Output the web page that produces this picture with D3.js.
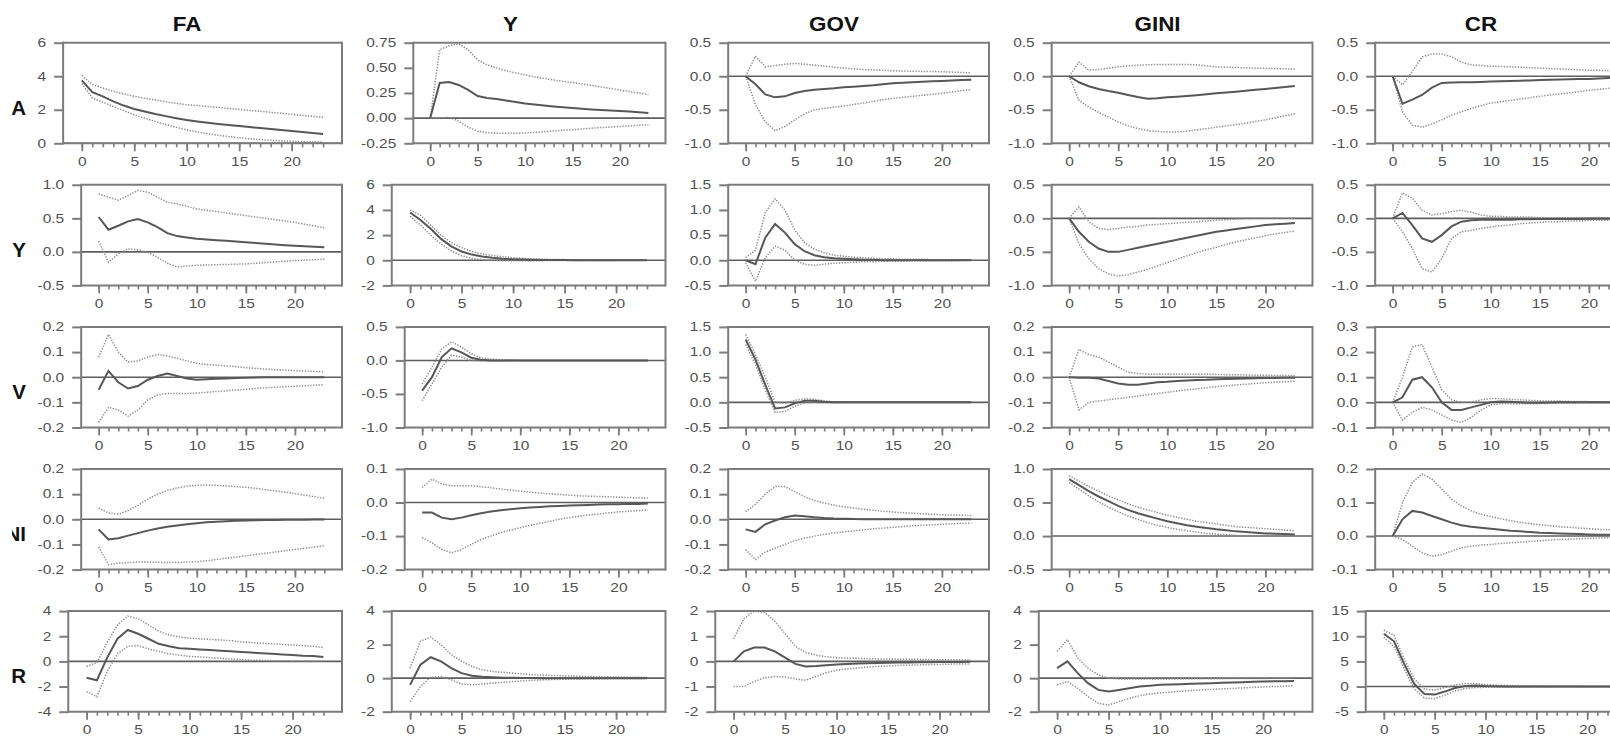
<!DOCTYPE html>
<html>
<head>
<meta charset="utf-8">
<script src="https://cdn.jsdelivr.net/npm/d3@7"></script>
<style>
  body { margin: 0; background: #fff; }
  svg { display: block; }
  text { font-family: Arial, "Liberation Sans", sans-serif; }
</style>
</head>
<body>
<svg id="chart" width="1610" height="738"></svg>
<script>
// Impulse responses: rows are the shocked variable, columns the responding variable.
const shocks = ["FA", "Y", "GOV", "GINI", "CR"];
const responses = ["FA", "Y", "GOV", "GINI", "CR"];
const periods = [0,1,2,3,4,5,6,7,8,9,10,11,12,13,14,15,16,17,18,19,20,21,22,23];
const majorPeriods = [0, 5, 10, 15, 20];

// y-axis tick labels for each row of panels (one list per column)
const ticks_FA   = [[0,2,4,6], [-0.25,0,0.25,0.5,0.75], [-1,-0.5,0,0.5], [-1,-0.5,0,0.5], [-1,-0.5,0,0.5]];
const ticks_Y    = [[-0.5,0,0.5,1], [-2,0,2,4,6], [-0.5,0,0.5,1,1.5], [-1,-0.5,0,0.5], [-1,-0.5,0,0.5]];
const ticks_GOV  = [[-0.2,-0.1,0,0.1,0.2], [-1,-0.5,0,0.5], [-0.5,0,0.5,1,1.5], [-0.2,-0.1,0,0.1,0.2], [-0.1,0,0.1,0.2,0.3]];
const ticks_GINI = [[-0.2,-0.1,0,0.1,0.2], [-0.2,-0.1,0,0.1], [-0.2,-0.1,0,0.1,0.2], [-0.5,0,0.5,1], [-0.1,0,0.1,0.2]];
const ticks_CR   = [[-4,-2,0,2,4], [-2,0,2,4], [-2,-1,0,1,2], [-2,0,2,4], [-5,0,5,10,15]];
// decimals shown on each panel's y labels
const decimals = [[0,2,1,1,1],[1,0,1,1,1],[1,1,1,1,1],[1,1,1,1,1],[0,0,0,0,0]];

// ---- shock FA ----
const FA_FA_mid = [3.75,3.05,2.8,2.5,2.25,2.05,1.9,1.75,1.62,1.5,1.39,1.3,1.22,1.15,1.09,1.03,0.97,0.91,0.85,0.79,0.74,0.68,0.62,0.56];
const FA_FA_hi  = [4.05,3.5,3.3,3.1,2.95,2.8,2.68,2.58,2.48,2.38,2.3,2.25,2.2,2.14,2.08,2.02,1.96,1.91,1.85,1.79,1.73,1.67,1.61,1.55];
const FA_FA_lo  = [3.55,2.7,2.45,2.2,1.95,1.7,1.5,1.3,1.12,0.95,0.8,0.68,0.57,0.48,0.4,0.33,0.27,0.22,0.18,0.15,0.12,0.1,0.08,0.07];
const FA_Y_mid = [0,0.35,0.36,0.33,0.28,0.22,0.2,0.19,0.175,0.16,0.145,0.135,0.125,0.117,0.108,0.1,0.093,0.087,0.081,0.076,0.071,0.065,0.058,0.05];
const FA_Y_hi  = [0,0.68,0.72,0.74,0.68,0.58,0.53,0.5,0.47,0.45,0.43,0.41,0.395,0.38,0.365,0.354,0.34,0.325,0.31,0.295,0.28,0.265,0.25,0.235];
const FA_Y_lo  = [0,0.0,0.01,-0.03,-0.09,-0.13,-0.145,-0.15,-0.15,-0.15,-0.148,-0.143,-0.135,-0.127,-0.12,-0.115,-0.108,-0.1,-0.094,-0.088,-0.083,-0.077,-0.071,-0.066];
const FA_GOV_mid = [0,-0.12,-0.27,-0.315,-0.3,-0.25,-0.22,-0.2,-0.19,-0.18,-0.166,-0.155,-0.145,-0.135,-0.12,-0.105,-0.097,-0.09,-0.083,-0.076,-0.07,-0.064,-0.058,-0.052];
const FA_GOV_hi  = [0,0.3,0.14,0.16,0.18,0.19,0.18,0.165,0.15,0.135,0.12,0.11,0.1,0.095,0.088,0.082,0.078,0.075,0.072,0.07,0.068,0.062,0.056,0.05];
const FA_GOV_lo  = [0,-0.42,-0.68,-0.81,-0.75,-0.65,-0.56,-0.5,-0.48,-0.46,-0.445,-0.42,-0.4,-0.375,-0.35,-0.33,-0.315,-0.3,-0.285,-0.27,-0.255,-0.235,-0.215,-0.2];
const FA_GINI_mid = [0,-0.09,-0.15,-0.19,-0.22,-0.245,-0.28,-0.31,-0.335,-0.33,-0.315,-0.305,-0.295,-0.283,-0.27,-0.255,-0.243,-0.23,-0.217,-0.203,-0.19,-0.175,-0.16,-0.145];
const FA_GINI_hi  = [0,0.21,0.09,0.1,0.12,0.14,0.155,0.165,0.172,0.175,0.176,0.176,0.175,0.17,0.155,0.14,0.135,0.13,0.125,0.12,0.117,0.113,0.11,0.107];
const FA_GINI_lo  = [0,-0.36,-0.46,-0.54,-0.61,-0.68,-0.74,-0.78,-0.81,-0.825,-0.83,-0.83,-0.82,-0.8,-0.78,-0.76,-0.74,-0.72,-0.7,-0.675,-0.65,-0.62,-0.59,-0.56];
const FA_CR_mid = [0,-0.41,-0.35,-0.28,-0.17,-0.1,-0.095,-0.09,-0.088,-0.085,-0.08,-0.075,-0.07,-0.066,-0.062,-0.057,-0.053,-0.05,-0.046,-0.043,-0.04,-0.034,-0.027,-0.02];
const FA_CR_hi  = [0,-0.13,0.07,0.29,0.33,0.33,0.29,0.21,0.17,0.16,0.15,0.145,0.14,0.135,0.127,0.12,0.114,0.108,0.102,0.096,0.09,0.087,0.083,0.08];
const FA_CR_lo  = [0,-0.53,-0.73,-0.76,-0.71,-0.65,-0.58,-0.53,-0.48,-0.44,-0.4,-0.38,-0.36,-0.34,-0.32,-0.3,-0.28,-0.265,-0.25,-0.23,-0.21,-0.195,-0.18,-0.165];

// ---- shock Y ----
const Y_FA_mid = [0.52,0.33,0.39,0.455,0.49,0.44,0.37,0.28,0.235,0.215,0.195,0.185,0.175,0.165,0.155,0.145,0.133,0.122,0.111,0.1,0.09,0.083,0.076,0.07];
const Y_FA_hi  = [0.865,0.815,0.77,0.84,0.915,0.89,0.815,0.74,0.716,0.68,0.64,0.62,0.6,0.58,0.56,0.54,0.52,0.5,0.48,0.46,0.44,0.413,0.386,0.36];
const Y_FA_lo  = [0.16,-0.155,-0.03,0.045,0.03,-0.005,-0.08,-0.17,-0.225,-0.21,-0.2,-0.196,-0.192,-0.188,-0.184,-0.18,-0.17,-0.16,-0.15,-0.14,-0.13,-0.123,-0.116,-0.11];
const Y_Y_mid = [3.8,3.2,2.5,1.7,1.1,0.7,0.45,0.3,0.2,0.12,0.08,0.05,0.03,0.02,0.01,0.01,0,0,0,0,0,0,0,0];
const Y_Y_hi  = [4.0,3.6,2.8,2.0,1.4,1.0,0.7,0.5,0.38,0.28,0.2,0.15,0.1,0.08,0.06,0.05,0.04,0.03,0.02,0.02,0.01,0.01,0.01,0.0];
const Y_Y_lo  = [3.5,2.8,2.0,1.3,0.75,0.35,0.15,0.05,0.0,-0.03,-0.04,-0.04,-0.03,-0.03,-0.02,-0.02,-0.02,-0.01,-0.01,-0.01,-0.01,0,0,0];
const Y_GOV_mid = [0,-0.08,0.45,0.72,0.55,0.32,0.18,0.1,0.06,0.04,0.03,0.02,0.01,0.01,0,0,0,0,0,0,0,0,0,0];
const Y_GOV_hi  = [0.05,0.2,0.95,1.22,1.0,0.6,0.35,0.22,0.15,0.1,0.08,0.06,0.05,0.04,0.03,0.03,0.02,0.02,0.02,0.01,0.01,0.01,0.01,0.01];
const Y_GOV_lo  = [-0.05,-0.42,0.05,0.28,0.2,0.0,-0.08,-0.1,-0.08,-0.06,-0.05,-0.04,-0.03,-0.03,-0.02,-0.02,-0.02,-0.01,-0.01,-0.01,-0.01,-0.01,0,0];
const Y_GINI_mid = [0,-0.2,-0.35,-0.45,-0.5,-0.5,-0.47,-0.44,-0.41,-0.38,-0.35,-0.32,-0.29,-0.26,-0.23,-0.2,-0.18,-0.16,-0.14,-0.12,-0.1,-0.09,-0.08,-0.07];
const Y_GINI_hi  = [0,0.17,-0.05,-0.15,-0.17,-0.15,-0.13,-0.12,-0.1,-0.09,-0.08,-0.07,-0.06,-0.05,-0.04,-0.03,-0.02,-0.01,0,0,0,0,0,0];
const Y_GINI_lo  = [0,-0.38,-0.6,-0.75,-0.83,-0.86,-0.84,-0.8,-0.76,-0.71,-0.66,-0.61,-0.56,-0.51,-0.47,-0.43,-0.39,-0.35,-0.32,-0.29,-0.26,-0.23,-0.21,-0.19];
const Y_CR_mid = [0,0.08,-0.1,-0.3,-0.35,-0.25,-0.12,-0.05,-0.03,-0.02,-0.02,-0.02,-0.02,-0.015,-0.015,-0.01,-0.01,-0.01,-0.01,-0.01,-0.005,-0.005,-0.005,-0.005];
const Y_CR_hi  = [0,0.38,0.3,0.12,0.05,0.07,0.1,0.12,0.09,0.05,0.03,0.03,0.02,0.02,0.02,0.01,0.01,0.01,0.01,0.01,0.01,0.01,0.01,0.01];
const Y_CR_lo  = [0,-0.2,-0.45,-0.75,-0.8,-0.6,-0.3,-0.2,-0.18,-0.15,-0.13,-0.11,-0.1,-0.08,-0.07,-0.06,-0.05,-0.05,-0.04,-0.04,-0.03,-0.03,-0.03,-0.02];

// ---- shock GOV ----
const GOV_FA_mid = [-0.05,0.025,-0.02,-0.045,-0.035,-0.01,0.005,0.015,0.005,-0.005,-0.01,-0.008,-0.006,-0.005,-0.003,-0.002,-0.001,0,0,0,0,0,0,0];
const GOV_FA_hi  = [0.08,0.17,0.1,0.06,0.065,0.08,0.09,0.085,0.075,0.065,0.055,0.05,0.048,0.045,0.042,0.038,0.035,0.032,0.03,0.028,0.026,0.025,0.023,0.022];
const GOV_FA_lo  = [-0.18,-0.12,-0.13,-0.155,-0.13,-0.09,-0.07,-0.065,-0.065,-0.065,-0.063,-0.06,-0.057,-0.054,-0.051,-0.048,-0.045,-0.042,-0.04,-0.038,-0.036,-0.034,-0.032,-0.03];
const GOV_Y_mid = [-0.45,-0.25,0.05,0.18,0.12,0.04,0.01,0,0,0,0,0,0,0,0,0,0,0,0,0,0,0,0,0];
const GOV_Y_hi  = [-0.35,-0.1,0.17,0.28,0.2,0.1,0.04,0.02,0.01,0.01,0,0,0,0,0,0,0,0,0,0,0,0,0,0];
const GOV_Y_lo  = [-0.6,-0.35,-0.1,0.08,0.05,0,-0.01,-0.01,-0.01,0,0,0,0,0,0,0,0,0,0,0,0,0,0,0];
const GOV_GOV_mid = [1.25,0.85,0.35,-0.12,-0.1,-0.02,0.03,0.03,0.01,0,0,0,0,0,0,0,0,0,0,0,0,0,0,0];
const GOV_GOV_hi  = [1.35,0.95,0.5,0,-0.02,0.04,0.07,0.06,0.03,0.01,0.01,0,0,0,0,0,0,0,0,0,0,0,0,0];
const GOV_GOV_lo  = [1.15,0.75,0.25,-0.2,-0.18,-0.08,-0.01,0,-0.01,-0.01,0,0,0,0,0,0,0,0,0,0,0,0,0,0];
const GOV_GINI_mid = [0,-0.002,-0.002,-0.005,-0.015,-0.025,-0.03,-0.03,-0.025,-0.02,-0.018,-0.015,-0.013,-0.011,-0.01,-0.008,-0.007,-0.006,-0.005,-0.004,-0.003,-0.003,-0.002,-0.002];
const GOV_GINI_hi  = [0,0.11,0.09,0.08,0.06,0.04,0.02,0.015,0.012,0.012,0.012,0.012,0.012,0.012,0.012,0.011,0.01,0.01,0.009,0.008,0.008,0.007,0.007,0.006];
const GOV_GINI_lo  = [0,-0.13,-0.1,-0.095,-0.09,-0.085,-0.08,-0.075,-0.07,-0.065,-0.06,-0.055,-0.05,-0.046,-0.042,-0.038,-0.034,-0.031,-0.028,-0.025,-0.022,-0.02,-0.018,-0.016];
const GOV_CR_mid = [0,0.02,0.09,0.1,0.06,0.0,-0.03,-0.03,-0.02,-0.01,0.0,0.003,0.002,0,-0.002,-0.002,-0.001,0,0,0,0,0,0,0];
const GOV_CR_hi  = [0,0.1,0.22,0.23,0.14,0.05,0.01,0.0,0.0,0.01,0.015,0.015,0.012,0.01,0.008,0.006,0.005,0.005,0.004,0.003,0.003,0.002,0.002,0.002];
const GOV_CR_lo  = [0,-0.07,-0.04,-0.02,-0.03,-0.05,-0.07,-0.08,-0.06,-0.03,-0.01,-0.005,-0.005,-0.006,-0.006,-0.005,-0.004,-0.003,-0.003,-0.002,-0.002,-0.002,-0.002,-0.002];

// ---- shock GINI ----
const GINI_FA_mid = [-0.04,-0.08,-0.075,-0.065,-0.055,-0.045,-0.037,-0.03,-0.025,-0.02,-0.016,-0.012,-0.01,-0.008,-0.006,-0.005,-0.004,-0.003,-0.003,-0.002,-0.002,-0.002,-0.001,-0.001];
const GINI_FA_hi  = [0.045,0.025,0.02,0.035,0.055,0.08,0.1,0.115,0.125,0.132,0.135,0.136,0.135,0.133,0.13,0.127,0.123,0.118,0.113,0.108,0.102,0.096,0.09,0.083];
const GINI_FA_lo  = [-0.11,-0.18,-0.175,-0.172,-0.17,-0.17,-0.171,-0.172,-0.172,-0.17,-0.168,-0.165,-0.16,-0.155,-0.15,-0.145,-0.14,-0.135,-0.13,-0.125,-0.12,-0.115,-0.11,-0.105];
const GINI_Y_mid = [-0.03,-0.03,-0.045,-0.05,-0.045,-0.038,-0.032,-0.027,-0.023,-0.02,-0.017,-0.015,-0.013,-0.011,-0.01,-0.009,-0.008,-0.007,-0.006,-0.005,-0.005,-0.004,-0.004,-0.003];
const GINI_Y_hi  = [0.045,0.07,0.055,0.05,0.05,0.05,0.047,0.044,0.04,0.037,0.034,0.031,0.028,0.026,0.024,0.022,0.02,0.019,0.018,0.017,0.016,0.015,0.014,0.013];
const GINI_Y_lo  = [-0.105,-0.12,-0.14,-0.15,-0.14,-0.125,-0.11,-0.1,-0.09,-0.082,-0.075,-0.068,-0.062,-0.056,-0.05,-0.045,-0.041,-0.037,-0.034,-0.031,-0.028,-0.026,-0.024,-0.022];
const GINI_GOV_mid = [-0.04,-0.05,-0.02,-0.005,0.008,0.015,0.012,0.008,0.005,0.003,0.002,0.001,0,0,0,0,0,0,0,0,0,0,0,0];
const GINI_GOV_hi  = [0.03,0.06,0.1,0.13,0.13,0.11,0.09,0.075,0.065,0.056,0.05,0.045,0.04,0.036,0.032,0.029,0.026,0.024,0.022,0.02,0.018,0.017,0.016,0.015];
const GINI_GOV_lo  = [-0.12,-0.16,-0.13,-0.115,-0.1,-0.085,-0.075,-0.067,-0.06,-0.054,-0.05,-0.046,-0.042,-0.038,-0.035,-0.032,-0.029,-0.026,-0.024,-0.022,-0.02,-0.018,-0.016,-0.015];
const GINI_GINI_mid = [0.85,0.76,0.67,0.59,0.52,0.45,0.39,0.34,0.3,0.26,0.22,0.19,0.16,0.14,0.12,0.1,0.085,0.07,0.06,0.05,0.04,0.035,0.03,0.025];
const GINI_GINI_hi  = [0.9,0.82,0.74,0.67,0.6,0.54,0.48,0.43,0.39,0.35,0.31,0.28,0.25,0.22,0.2,0.18,0.16,0.14,0.13,0.12,0.11,0.1,0.09,0.08];
const GINI_GINI_lo  = [0.8,0.7,0.6,0.51,0.43,0.36,0.3,0.25,0.2,0.16,0.13,0.1,0.08,0.06,0.04,0.03,0.02,0.01,0.01,0,0,0,0,0];
const GINI_CR_mid = [0,0.05,0.075,0.07,0.06,0.05,0.04,0.032,0.028,0.025,0.022,0.019,0.016,0.014,0.012,0.01,0.009,0.008,0.007,0.006,0.005,0.004,0.004,0.003];
const GINI_CR_hi  = [0,0.1,0.16,0.185,0.17,0.14,0.11,0.09,0.075,0.065,0.058,0.052,0.046,0.041,0.037,0.034,0.031,0.028,0.026,0.024,0.022,0.02,0.019,0.018];
const GINI_CR_lo  = [0,-0.01,-0.03,-0.05,-0.06,-0.055,-0.045,-0.035,-0.03,-0.027,-0.025,-0.022,-0.02,-0.018,-0.016,-0.014,-0.012,-0.01,-0.009,-0.008,-0.007,-0.006,-0.005,-0.005];

// ---- shock CR ----
const CR_FA_mid = [-1.3,-1.5,0.3,1.8,2.5,2.2,1.8,1.4,1.2,1.05,1.0,0.95,0.9,0.85,0.8,0.75,0.7,0.65,0.6,0.55,0.5,0.45,0.42,0.35];
const CR_FA_hi  = [-0.4,-0.1,1.5,2.9,3.6,3.4,2.9,2.4,2.1,1.95,1.85,1.8,1.75,1.7,1.65,1.55,1.5,1.45,1.4,1.35,1.3,1.25,1.2,1.1];
const CR_FA_lo  = [-2.4,-2.8,-0.8,0.6,1.2,1.25,1.0,0.8,0.6,0.5,0.4,0.35,0.3,0.25,0.2,0.15,0.1,0.08,0.06,0.05,0.04,0.03,0.02,0.02];
const CR_Y_mid = [-0.4,0.8,1.25,1.0,0.6,0.3,0.15,0.08,0.05,0.03,0.02,0.01,0.01,0,0,0,0,0,0,0,0,0,0,0];
const CR_Y_hi  = [0.6,2.2,2.45,2.0,1.4,1.0,0.7,0.5,0.4,0.35,0.3,0.25,0.2,0.18,0.16,0.14,0.12,0.1,0.09,0.08,0.07,0.06,0.05,0.05];
const CR_Y_lo  = [-1.4,-0.5,0.05,0.1,-0.1,-0.35,-0.4,-0.35,-0.3,-0.25,-0.2,-0.16,-0.12,-0.1,-0.08,-0.06,-0.05,-0.04,-0.03,-0.03,-0.02,-0.02,-0.02,-0.01];
const CR_GOV_mid = [0,0.4,0.55,0.55,0.4,0.15,-0.1,-0.2,-0.18,-0.15,-0.12,-0.1,-0.08,-0.07,-0.06,-0.05,-0.04,-0.04,-0.03,-0.03,-0.02,-0.02,-0.02,-0.01];
const CR_GOV_hi  = [0.9,1.7,2.0,1.95,1.6,1.1,0.6,0.35,0.25,0.18,0.15,0.13,0.12,0.11,0.1,0.1,0.09,0.09,0.08,0.08,0.07,0.07,0.06,0.06];
const CR_GOV_lo  = [-1.0,-1.0,-0.8,-0.65,-0.6,-0.62,-0.7,-0.75,-0.6,-0.45,-0.35,-0.3,-0.26,-0.22,-0.2,-0.18,-0.16,-0.15,-0.14,-0.13,-0.12,-0.11,-0.1,-0.1];
const CR_GINI_mid = [0.6,1.0,0.3,-0.3,-0.7,-0.8,-0.7,-0.6,-0.5,-0.45,-0.4,-0.38,-0.36,-0.34,-0.32,-0.3,-0.28,-0.26,-0.24,-0.22,-0.2,-0.19,-0.18,-0.17];
const CR_GINI_hi  = [1.6,2.3,1.2,0.6,0.2,0.0,-0.05,-0.05,-0.05,-0.05,-0.05,-0.05,-0.04,-0.04,-0.03,-0.03,-0.03,-0.02,-0.02,-0.02,-0.02,-0.01,-0.01,-0.01];
const CR_GINI_lo  = [-0.4,-0.2,-0.6,-1.1,-1.5,-1.6,-1.4,-1.2,-1.05,-0.95,-0.88,-0.83,-0.78,-0.74,-0.7,-0.67,-0.64,-0.61,-0.58,-0.55,-0.52,-0.5,-0.48,-0.45];
const CR_CR_mid = [10.5,9.0,4.5,0.5,-1.5,-1.6,-1.0,-0.3,0.1,0.2,0.1,0.05,0,0,0,0,0,0,0,0,0,0,0,0];
const CR_CR_hi  = [11.2,10.2,5.5,1.5,-0.5,-0.7,-0.2,0.3,0.6,0.6,0.4,0.3,0.2,0.15,0.1,0.1,0.1,0.05,0.05,0.05,0.03,0.03,0.02,0.02];
const CR_CR_lo  = [9.8,8.0,3.5,-0.5,-2.3,-2.4,-1.7,-0.9,-0.4,-0.2,-0.15,-0.15,-0.1,-0.1,-0.08,-0.05,-0.05,-0.05,-0.04,-0.03,-0.03,-0.02,-0.02,-0.02];

// Panel table assembled from the named arrays above.
const tickRows = [ticks_FA, ticks_Y, ticks_GOV, ticks_GINI, ticks_CR];
const seriesRows = [
  [[FA_FA_mid,FA_FA_hi,FA_FA_lo],[FA_Y_mid,FA_Y_hi,FA_Y_lo],[FA_GOV_mid,FA_GOV_hi,FA_GOV_lo],[FA_GINI_mid,FA_GINI_hi,FA_GINI_lo],[FA_CR_mid,FA_CR_hi,FA_CR_lo]],
  [[Y_FA_mid,Y_FA_hi,Y_FA_lo],[Y_Y_mid,Y_Y_hi,Y_Y_lo],[Y_GOV_mid,Y_GOV_hi,Y_GOV_lo],[Y_GINI_mid,Y_GINI_hi,Y_GINI_lo],[Y_CR_mid,Y_CR_hi,Y_CR_lo]],
  [[GOV_FA_mid,GOV_FA_hi,GOV_FA_lo],[GOV_Y_mid,GOV_Y_hi,GOV_Y_lo],[GOV_GOV_mid,GOV_GOV_hi,GOV_GOV_lo],[GOV_GINI_mid,GOV_GINI_hi,GOV_GINI_lo],[GOV_CR_mid,GOV_CR_hi,GOV_CR_lo]],
  [[GINI_FA_mid,GINI_FA_hi,GINI_FA_lo],[GINI_Y_mid,GINI_Y_hi,GINI_Y_lo],[GINI_GOV_mid,GINI_GOV_hi,GINI_GOV_lo],[GINI_GINI_mid,GINI_GINI_hi,GINI_GINI_lo],[GINI_CR_mid,GINI_CR_hi,GINI_CR_lo]],
  [[CR_FA_mid,CR_FA_hi,CR_FA_lo],[CR_Y_mid,CR_Y_hi,CR_Y_lo],[CR_GOV_mid,CR_GOV_hi,CR_GOV_lo],[CR_GINI_mid,CR_GINI_hi,CR_GINI_lo],[CR_CR_mid,CR_CR_hi,CR_CR_lo]]
];

// ---- layout ----
const svg = d3.select("#chart");
const cellX0 = 18.5, cellW = 323.5;
const rowTop0 = 42.7, rowStep = 142.1, plotH = 100.6;
const xDomain = [-1.78, 24.8];
const stretch = 1.29;          // horizontal widening of the tick lettering
const frameColor = "#7c7c7c";
const labelColor = "#505050";
const locale = d3.formatLocale({ decimal: ".", thousands: ",", grouping: [3], currency: ["", ""], minus: "-" });

// measure tick label widths to place each panel's left axis
const probe = svg.append("text").style("font-size", "12px");
function textW(s) { probe.text(s); return probe.node().getComputedTextLength(); }

// column titles
responses.forEach((name, c) => {
  svg.append("text")
    .attr("transform", `translate(${cellX0 + c * cellW + 168.5},31) scale(1.15,1)`)
    .attr("text-anchor", "middle")
    .style("font-size", "19.5px").style("font-weight", "bold").style("fill", "#111")
    .text(name);
});

// row labels sit in the narrow left margin, trimmed at its edge
svg.append("clipPath").attr("id", "row-label-clip")
  .append("rect").attr("x", 12).attr("y", 0).attr("width", 40).attr("height", 738);
const rowLabels = svg.append("g").attr("clip-path", "url(#row-label-clip)");
shocks.forEach((name, r) => {
  rowLabels.append("text")
    .attr("x", 26).attr("y", rowTop0 + r * rowStep + 72)
    .attr("text-anchor", "end")
    .style("font-size", "20.5px").style("font-weight", "bold").style("fill", "#111")
    .text(name);
});

const lineGen = (x, y) => d3.line().x((d, i) => x(periods[i])).y(d => y(d));

shocks.forEach((shock, r) => {
  responses.forEach((resp, c) => {
    const ticks = tickRows[r][c];
    const [mid, hi, lo] = seriesRows[r][c];
    const fmt = locale.format("." + decimals[r][c] + "f");
    const maxW = d3.max(ticks, t => textW(fmt(t)));

    const cellLeft = cellX0 + c * cellW;
    const left = cellLeft + 36 + stretch * maxW;
    const right = cellLeft + cellW;
    const top = rowTop0 + r * rowStep;
    const bottom = top + plotH;

    const x = d3.scaleLinear().domain(xDomain).range([left, right]);
    const y = d3.scaleLinear().domain([ticks[0], ticks[ticks.length - 1]]).range([bottom, top]);

    const g = svg.append("g");
    const clipId = `clip-${r}-${c}`;
    g.append("clipPath").attr("id", clipId)
      .append("rect").attr("x", left).attr("y", top).attr("width", right - left).attr("height", bottom - top);

    // zero reference line
    g.append("line")
      .attr("x1", left).attr("x2", right).attr("y1", y(0)).attr("y2", y(0))
      .attr("stroke", "#5e5e5e").attr("stroke-width", 1.6);

    const plot = g.append("g").attr("clip-path", `url(#${clipId})`);
    const line = lineGen(x, y);
    [hi, lo].forEach(band => {
      plot.append("path").attr("d", line(band))
        .attr("fill", "none").attr("stroke", "#8a8a8a")
        .attr("stroke-width", 1.5).attr("stroke-dasharray", "1.3,1.5");
    });
    plot.append("path").attr("d", line(mid))
      .attr("fill", "none").attr("stroke", "#575757").attr("stroke-width", 2);

    // frame
    const frame = g.append("g").attr("stroke", frameColor).attr("stroke-width", 2).attr("fill", "none");
    frame.append("line").attr("x1", left).attr("x2", right).attr("y1", top).attr("y2", top);
    frame.append("line").attr("x1", left).attr("x2", right).attr("y1", bottom).attr("y2", bottom);
    frame.append("line").attr("x1", right).attr("x2", right).attr("y1", top - 1).attr("y2", bottom + 1);
    frame.append("line").attr("x1", left).attr("x2", left).attr("y1", top - 1).attr("y2", bottom + 1);

    // y axis
    const ya = g.append("g").attr("transform", `translate(${left},0)`)
      .call(d3.axisLeft(y).tickValues(ticks).tickSize(9).tickFormat(fmt));
    ya.select(".domain").remove();
    ya.selectAll(".tick line").attr("stroke", frameColor).attr("stroke-width", 2);
    ya.selectAll(".tick text")
      .attr("x", -17 / stretch).attr("transform", `scale(${stretch},1)`)
      .style("font-size", "12px").style("font-family", "Arial, 'Liberation Sans', sans-serif")
      .attr("fill", labelColor);

    // x axis: minor ticks every period, labelled major ticks every five
    const xMinor = g.append("g").attr("transform", `translate(0,${bottom})`)
      .call(d3.axisBottom(x).tickValues(periods).tickSize(4).tickFormat(""));
    xMinor.select(".domain").remove();
    xMinor.selectAll(".tick line").attr("stroke", frameColor).attr("stroke-width", 1.6);

    const xMajor = g.append("g").attr("transform", `translate(0,${bottom})`)
      .call(d3.axisBottom(x).tickValues(majorPeriods).tickSize(8).tickPadding(6).tickFormat(d3.format("d")));
    xMajor.select(".domain").remove();
    xMajor.selectAll(".tick line").attr("stroke", frameColor).attr("stroke-width", 1.8);
    xMajor.selectAll(".tick text")
      .attr("transform", `scale(${stretch},1)`)
      .style("font-size", "12px").style("font-family", "Arial, 'Liberation Sans', sans-serif")
      .attr("fill", labelColor);
  });
});

probe.remove();
</script>
</body>
</html>
